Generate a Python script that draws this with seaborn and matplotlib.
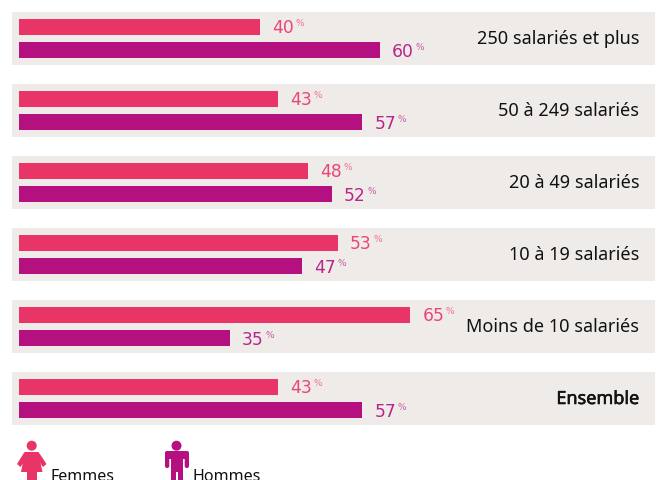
import pandas as pd
import matplotlib
matplotlib.use('Agg')
import matplotlib.pyplot as plt
import matplotlib.patheffects as pe
from matplotlib.patches import Circle, Polygon, FancyBboxPatch
import seaborn as sns

# Data
categories = ['250 salariés et plus', '50 à 249 salariés', '20 à 49 salariés',
              '10 à 19 salariés', 'Moins de 10 salariés', 'Ensemble']
femmes = [40, 43, 48, 53, 65, 43]
hommes = [60, 57, 52, 47, 35, 57]

ROSE = '#e93467'
POURPRE = '#b4107f'
PANEL = '#efebe8'
W, H = 657, 480

df = pd.DataFrame({'categorie': categories * 2,
                   'sexe': ['Femmes'] * 6 + ['Hommes'] * 6,
                   'part': femmes + hommes})

sns.set_theme(style='white')
plt.rcParams['font.family'] = ['Noto Sans', 'DejaVu Sans']

fig = plt.figure(figsize=(W / 100, H / 100), dpi=100)
ax = fig.add_axes([0, 0, 1, 1])

# one category = 72 px, one percentage point = 6.02 px
for i in range(len(categories)):
    ax.axhspan(i - 0.368, i + 0.368, xmin=12 / W, xmax=655 / W, color=PANEL, lw=0, zorder=0)

sns.barplot(data=df, x='part', y='categorie', hue='sexe', orient='h',
            palette={'Femmes': ROSE, 'Hommes': POURPRE},
            width=0.639, gap=0.30, legend=False, saturation=1, linewidth=0, ax=ax, zorder=2)

ax.set_xlim(-19 / 6.02, (W - 19) / 6.02)
ax.set_ylim((H - 38.5) / 72, -38.5 / 72)
ax.axis('off')

# value labels
for container, color in zip(ax.containers, [ROSE, POURPRE]):
    for p in container:
        val = p.get_width()
        yc = p.get_y() + p.get_height() / 2
        ax.annotate(f'{val:.0f}', (val, yc), xytext=(12, -1.5), textcoords='offset pixels',
                    color=color, fontsize=12.3, va='center', ha='left',
                    family='DejaVu Sans', alpha=0.9)
        ax.annotate('%', (val, yc), xytext=(35.5, 3), textcoords='offset pixels',
                    color=color, fontsize=6.5, va='center', ha='left',
                    family='DejaVu Sans', alpha=0.65)

# size labels on the right
for cat in categories:
    txt = ax.annotate(cat, (1, categories.index(cat)), xycoords=('axes fraction', 'data'),
                      xytext=(-17.5, -0.5), textcoords='offset pixels', ha='right', va='center',
                      fontsize=13, color='#111111')
    if cat == 'Ensemble':
        # no bold face for this family here, thicken it
        txt.set_path_effects([pe.withStroke(linewidth=0.4, foreground='#111111')])

# pictos in pixel coordinates
pic = fig.add_axes([0, 0, 1, 1], facecolor='none')
pic.set_xlim(0, W)
pic.set_ylim(H, 0)
pic.axis('off')

pic.add_patch(Circle((31.7, 445.7), 5, color=ROSE, lw=0))
pic.add_patch(Polygon([(25, 452), (38, 452), (42.5, 472), (21, 472)], color=ROSE, lw=0))
pic.add_patch(Polygon([(24.5, 452), (28.5, 456), (20.5, 467), (17, 464)], color=ROSE, lw=0))
pic.add_patch(Polygon([(38.5, 452), (35, 456), (43, 467), (46.5, 464)], color=ROSE, lw=0))
pic.add_patch(Polygon([(27, 472), (37, 472), (37, 482), (27, 482)], color=ROSE, lw=0))

pic.add_patch(Circle((176.5, 445.7), 5, color=POURPRE, lw=0))
pic.add_patch(FancyBboxPatch((165, 451), 24, 8, boxstyle='round,pad=0,rounding_size=2',
                             color=POURPRE, lw=0))
pic.add_patch(FancyBboxPatch((165, 453), 4.3, 15, boxstyle='round,pad=0,rounding_size=2',
                             color=POURPRE, lw=0))
pic.add_patch(FancyBboxPatch((184.7, 453), 4.3, 15, boxstyle='round,pad=0,rounding_size=2',
                             color=POURPRE, lw=0))
pic.add_patch(Polygon([(170.5, 455), (183, 455), (183, 472), (170.5, 472)], color=POURPRE, lw=0))
pic.add_patch(Polygon([(170.5, 470), (176, 470), (176, 482), (170.5, 482)], color=POURPRE, lw=0))
pic.add_patch(Polygon([(177.5, 470), (183, 470), (183, 482), (177.5, 482)], color=POURPRE, lw=0))

pic.text(51, 477, 'Femmes', fontsize=11.5, color='#111111', va='center', ha='left')
pic.text(193, 477, 'Hommes', fontsize=11.5, color='#111111', va='center', ha='left')

fig.savefig('out.png', dpi=100)
